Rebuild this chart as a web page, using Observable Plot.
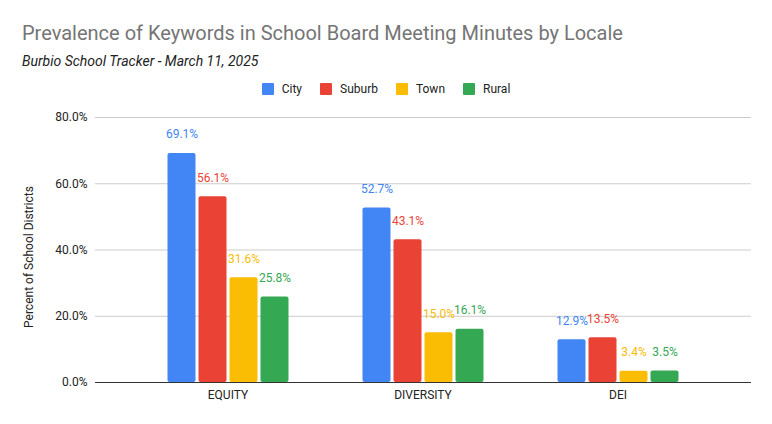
<!DOCTYPE html>
<html>
<head>
<meta charset="utf-8">
<script src="https://cdn.jsdelivr.net/npm/d3@7"></script>
<script src="https://cdn.jsdelivr.net/npm/@observablehq/plot@0.6"></script>
<style>
  html, body { margin: 0; padding: 0; background: #fff; }
  body { width: 772px; height: 424px; position: relative; overflow: hidden; font-family: Roboto, "Noto Sans", sans-serif; }
  #title { position: absolute; left: 22px; top: 21px; font-size: 20px; line-height: 24px; color: #757575; white-space: nowrap; }
  #subtitle { position: absolute; left: 22px; top: 52px; font-size: 14px; line-height: 18px; font-style: italic; color: #222; white-space: nowrap; }
  #legend { position: absolute; left: 0; width: 772px; top: 82px; height: 14px; display: flex; justify-content: center; align-items: center; font-size: 12px; color: #222; }
  .item { display: flex; align-items: center; margin: 0 9px; }
  .sw { width: 12px; height: 12px; border-radius: 1px; margin-right: 8px; }
  #back, #front { position: absolute; left: 0; top: 100px; }
  #front svg { background: transparent !important; }
</style>
</head>
<body>
<div id="title">Prevalence of Keywords in School Board Meeting Minutes by Locale</div>
<div id="subtitle">Burbio School Tracker - March 11, 2025</div>
<div id="legend"></div>
<div id="back"></div>
<div id="front"></div>
<script>
const categories = ["EQUITY", "DIVERSITY", "DEI"];
const series = ["City", "Suburb", "Town", "Rural"];
const colors = ["#4285F4", "#EA4335", "#FBBC04", "#34A853"];
const city = [69.1, 52.7, 12.9];
const suburb = [56.1, 43.1, 13.5];
const town = [31.6, 15.0, 3.4];
const rural = [25.8, 16.1, 3.5];
const yTicks = [0, 20, 40, 60, 80];
const yLabel = "Percent of School Districts";

const values = [city, suburb, town, rural];
const rows = [];
categories.forEach((c, i) => series.forEach((s, j) => rows.push({category: c, series: s, value: values[j][i]})));

const legend = document.getElementById("legend");
series.forEach((s, j) => {
  const it = document.createElement("div");
  it.className = "item";
  it.innerHTML = `<div class="sw" style="background:${colors[j]}"></div><span>${s}</span>`;
  legend.appendChild(it);
});

const fmt = d => d.toFixed(1) + "%";
const common = {
  width: 772,
  height: 324,
  marginTop: 17,
  marginBottom: 42,
  marginLeft: 95,
  marginRight: 21,
  style: {fontFamily: "Roboto, 'Noto Sans', sans-serif", fontSize: "12px", color: "#222", background: "transparent"}
};

// Background: gridlines, y axis, axis title
const back = Plot.plot({
  ...common,
  y: {domain: [0, 80], axis: null},
  marks: [
    Plot.ruleY(yTicks, {y: d => d, stroke: "#cccccc"}),
    Plot.text(yTicks, {y: d => d, text: fmt, frameAnchor: "left", textAnchor: "end", dx: -8, fill: "#222"}),
    Plot.text([yLabel], {frameAnchor: "left", rotate: -90, textAnchor: "middle", dx: -66, dy: 7, fill: "#222"})
  ]
});
document.getElementById("back").appendChild(back);

// Foreground: grouped bars, labels, category axis
const front = Plot.plot({
  ...common,
  fx: {domain: categories, paddingInner: 0.357, paddingOuter: 0.352, label: null, axis: "bottom", tickSize: 0, tickPadding: 8},
  x: {domain: series, axis: null, padding: 0},
  y: {domain: [0, 80], axis: null},
  color: {domain: series, range: colors},
  marks: [
    Plot.barY(rows, {fx: "category", x: "series", y: "value", fill: "series", insetLeft: 1.5, insetRight: 1.5, rx: 2}),
    Plot.text(rows, {fx: "category", x: "series", y: "value", text: d => fmt(d.value), fill: "series", dy: -19})
  ]
});
document.getElementById("front").appendChild(front);

// Baseline on top of bars, full width
const base = Plot.plot({
  ...common,
  y: {domain: [0, 80], axis: null},
  marks: [Plot.ruleY([0], {stroke: "#333"})]
});
const baseDiv = document.createElement("div");
baseDiv.style.cssText = "position:absolute;left:0;top:100px;pointer-events:none";
baseDiv.appendChild(base);
document.body.appendChild(baseDiv);
</script>
</body>
</html>
